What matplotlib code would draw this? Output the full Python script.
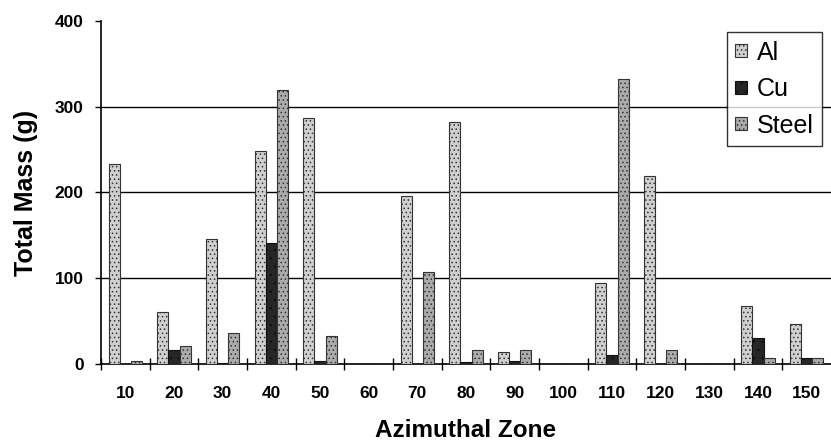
import numpy as np
import matplotlib
matplotlib.use("Agg")
import matplotlib.pyplot as plt

# Azimuthal zones and total mass per material (g)
zones = [10, 20, 30, 40, 50, 60, 70, 80, 90, 100, 110, 120, 130, 140, 150]
al = [233, 60, 146, 248, 287, 0, 196, 282, 14, 0, 94, 219, 0, 68, 46]
cu = [0, 16, 1, 141, 4, 0, 0, 2, 3, 0, 11, 0, 0, 30, 7]
steel = [4, 21, 36, 319, 32, 0, 107, 16, 16, 0, 332, 16, 0, 7, 7]

plt.rcParams['font.family'] = ['Liberation Sans', 'DejaVu Sans']
plt.rcParams['hatch.linewidth'] = 0.6

fig = plt.figure(figsize=(8.31, 4.46), dpi=100)
ax = fig.add_axes([0.1215, 0.184, 0.8785, 0.769])

x = np.arange(len(zones))
w = 0.23
ax.bar(x - w, al, w, color='#d0d0d0', edgecolor='#333333', hatch='....',
       linewidth=0.8, label='Al', zorder=3)
ax.bar(x, cu, w, color='#262626', edgecolor='#111111', hatch='..',
       linewidth=0.8, label='Cu', zorder=3)
ax.bar(x + w, steel, w, color='#ababab', edgecolor='#333333', hatch='....',
       linewidth=0.8, label='Steel', zorder=3)

ax.set_xlim(-0.5, len(zones) - 0.5)
ax.set_ylim(0, 400)
ax.set_yticks([0, 100, 200, 300, 400])
for v in [100, 200, 300]:
    ax.axhline(v, color='black', lw=1, zorder=1)

ax.set_xticks(x)
ax.set_xticklabels([str(z) for z in zones], fontweight='bold', fontsize=12.5)
ax.set_xticks(np.arange(len(zones)) - 0.5, minor=True)
ax.tick_params(axis='x', which='major', length=0, pad=16)
ax.tick_params(axis='x', which='minor', direction='inout', length=9, width=1)
ax.tick_params(axis='y', direction='out', length=4.5, width=1, labelsize=12.5, pad=8)
for lab in ax.get_yticklabels():
    lab.set_fontweight('bold')

for s in ['top', 'right']:
    ax.spines[s].set_visible(False)
ax.spines['left'].set_linewidth(1.2)
ax.spines['bottom'].set_linewidth(1.2)

ax.set_ylabel('Total Mass (g)', fontsize=18, fontweight='bold', labelpad=12)
ax.set_xlabel('Azimuthal Zone', fontsize=17.5, fontweight='bold', labelpad=12.5)

leg = ax.legend(loc='upper right', bbox_to_anchor=(0.988, 0.968), fontsize=18,
                frameon=True, fancybox=False, edgecolor='black',
                handlelength=0.45, handleheight=0.45, handletextpad=0.4,
                borderpad=0.35, borderaxespad=0, labelspacing=0.5)
leg.get_frame().set_linewidth(1)
leg.set_zorder(5)

fig.savefig('out.png', dpi=100, facecolor='white')
